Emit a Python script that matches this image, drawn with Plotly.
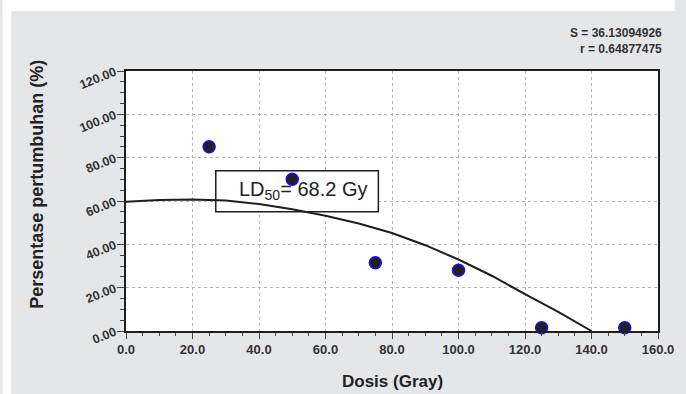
import plotly.graph_objects as go

# Data
dose = [25, 50, 75, 100, 125, 150]
growth = [85.0, 70.0, 31.5, 28.0, 1.5, 1.5]

fit_dose = [0, 10, 20, 30, 40, 50, 60, 70, 80, 90, 100, 110, 120, 130, 140]
fit_growth = [59.7, 60.5, 60.7, 60.2, 58.6, 56.2, 53.2, 49.6, 45.2, 39.6, 33.0, 25.5, 17.0, 8.8, 0.0]

x_tickvals = [0, 20, 40, 60, 80, 100, 120, 140, 160]
x_ticktext = ["0.0", "20.0", "40.0", "60.0", "80.0", "100.0", "120.0", "140.0", "160.0"]
y_tickvals = [0, 20, 40, 60, 80, 100, 120]
y_ticktext = ["0.00", "20.00", "40.00", "60.00", "80.00", "100.00", "120.00"]

ld50_label = "LD<sub>50</sub>= 68.2 Gy"
stat_s = "S = 36.13094926"
stat_r = "r = 0.64877475"
x_title = "Dosis (Gray)"
y_title = "Persentase pertumbuhan (%)"

FONT = "Liberation Sans, Arial, sans-serif"
GRAY = "#e5e6e8"
W, H = 686, 394
L, R, T, B = 126, 17, 71, 63
PW, PH = W - L - R, H - T - B


def px_x(p):
    return (p - L) / PW


def px_y(p):
    return (H - B - p) / PH


fig = go.Figure()

fig.add_trace(go.Scatter(
    x=fit_dose, y=fit_growth, mode="lines",
    line=dict(color="#1e1e1e", width=2),
    hoverinfo="skip", showlegend=False, cliponaxis=False,
))
fig.add_trace(go.Scatter(
    x=dose, y=growth, mode="markers",
    marker=dict(size=12, color="#231f20", line=dict(color="#1010ff", width=1.5)),
    showlegend=False, cliponaxis=False,
))

axis_common = dict(
    showline=True, mirror=True, linecolor="#1e1e1e", linewidth=1.5,
    showgrid=True, gridcolor="#b5b5b5", griddash="dot", gridwidth=1,
    zeroline=False, ticks="outside", tickcolor="#444", tickwidth=1.2,
)

fig.update_xaxes(
    range=[0, 160], tickvals=x_tickvals, ticktext=x_ticktext, ticklen=6,
    tickfont=dict(family=FONT, size=13, color="#333", weight="bold"),
    minor=dict(dtick=5, tick0=0, ticks="outside", ticklen=3, tickcolor="#444", showgrid=False),
    **axis_common,
)
fig.update_yaxes(
    range=[0, 120], tickvals=y_tickvals, ticktext=y_ticktext, ticklen=7, tickangle=-22,
    tickfont=dict(family=FONT, size=12.5, color="#333", weight="bold"),
    minor=dict(dtick=5, tick0=0, ticks="outside", ticklen=4, tickcolor="#444", showgrid=False),
    **axis_common,
)

shapes = [
    dict(type="rect", xref="x", yref="y", x0=27, x1=75.9, y0=55, y1=74,
         fillcolor="white", line=dict(color="#1e1e1e", width=1.5), layer="between"),
    dict(type="rect", xref="paper", yref="paper", x0=px_x(0), x1=px_x(W), y0=px_y(11), y1=px_y(0),
         fillcolor="white", line=dict(width=0), layer="above"),
    dict(type="rect", xref="paper", yref="paper", x0=px_x(0), x1=px_x(9), y0=px_y(H), y1=px_y(0),
         fillcolor="white", line=dict(width=0), layer="above"),
]

annotations = [
    dict(text=ld50_label, x=53.2, y=64.7, xref="x", yref="y", showarrow=False,
         font=dict(family=FONT, size=20, color="#222")),
    dict(text=stat_s, x=px_x(675), y=px_y(33), xref="paper", yref="paper", showarrow=False,
         xanchor="right", yanchor="middle", font=dict(family=FONT, size=12, color="#333", weight="bold")),
    dict(text=stat_r, x=px_x(675), y=px_y(49), xref="paper", yref="paper", showarrow=False,
         xanchor="right", yanchor="middle", font=dict(family=FONT, size=12, color="#333", weight="bold")),
    dict(text=x_title, x=0.5, y=px_y(381.5), xref="paper", yref="paper", showarrow=False,
         xanchor="center", yanchor="middle", font=dict(family=FONT, size=17, color="#222", weight="bold")),
    dict(text=y_title, x=px_x(35), y=px_y(184), xref="paper", yref="paper", showarrow=False,
         textangle=-90, xanchor="center", yanchor="middle",
         font=dict(family=FONT, size=18, color="#222", weight="bold")),
]

fig.update_layout(
    width=W, height=H,
    margin=dict(l=L, r=R, t=T, b=B),
    paper_bgcolor=GRAY, plot_bgcolor="white",
    shapes=shapes, annotations=annotations,
    showlegend=False,
)

fig.write_html(
    "out.html",
    config={"displayModeBar": False},
    post_script="document.body.style.margin='0';document.body.style.overflow='hidden';",
)
